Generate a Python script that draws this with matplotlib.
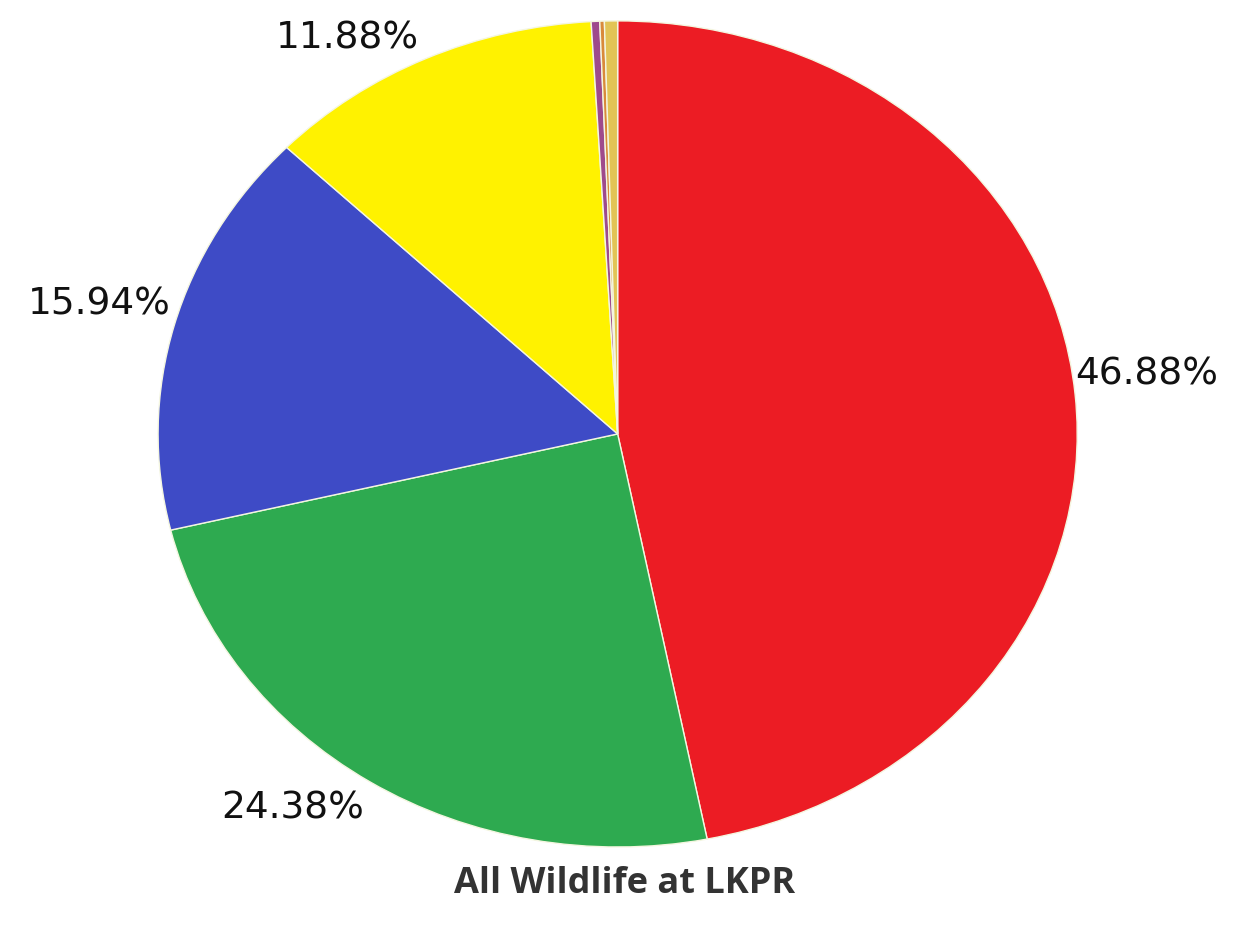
import numpy as np
import matplotlib.pyplot as plt

# share of all wildlife at LKPR (clockwise from 12 o'clock)
groups = ['Group A', 'Group B', 'Group C', 'Group D', 'Group E', 'Group F', 'Group G']
shares = [46.88, 24.38, 15.94, 11.88, 0.30, 0.16, 0.46]
colors = ['#EC1C24', '#2EAA50', '#3E4BC6', '#FFF200', '#9E4A8C', '#D98A3A', '#E2C455']
title = 'All Wildlife at LKPR'

# label placement tweaks (radius, angle nudge in degrees) like the original's outside-end labels
label_r = [1.16, 1.148, 1.171, 1.127, 0, 0, 0]
label_nudge = [1.6, -5.4, -0.4, 6.8, 0, 0, 0]

fig = plt.figure(figsize=(12.5, 9.37), dpi=100)
ax = fig.add_axes([0, 0, 1, 1])

wedges, _ = ax.pie(shares, colors=colors, startangle=90, counterclock=False,
                   wedgeprops=dict(edgecolor='#f4f6e0', linewidth=1.0))

for w, p, r, nudge in zip(wedges, shares, label_r, label_nudge):
    if p < 1:
        continue
    ang = np.deg2rad((w.theta1 + w.theta2) / 2 + nudge)
    ax.text(r * np.cos(ang), r * np.sin(ang), '%.2f%%' % p, ha='center', va='center',
            fontsize=27, color='#111111', family='DejaVu Sans')

# stretched pie, like the original (wider than tall)
ax.set_aspect('auto')
ax.set_xlim(-1.344, 1.376)
ax.set_ylim(-1.2155, 1.053)
ax.axis('off')

fig.text(0.5, 1 - 884 / 937, title, ha='center', va='center', fontsize=26,
         fontweight='bold', color='#333333', family='Open Sans')

fig.savefig('out.png', dpi=100, facecolor='white')
